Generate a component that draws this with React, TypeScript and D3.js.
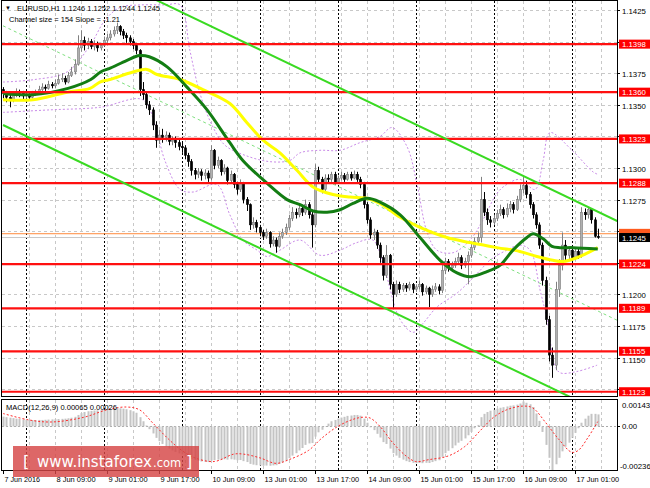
import React, { useEffect, useRef } from "react";
import * as d3 from "d3";

// ---------- DATA ----------
const firstOpen = 1.1362;
const closes = [
  1.1359,1.1356,1.1354,1.1358,1.1360,1.1359,1.1357,1.1358,1.1356,1.1359,
  1.1360,1.1362,1.1364,1.1363,1.1366,1.1365,1.1367,1.1370,1.1371,1.1368,
  1.1373,1.1376,1.1382,1.1395,1.1401,1.1397,1.1400,1.1396,1.1398,1.1395,
  1.1397,1.1401,1.1403,1.1406,1.1409,1.1412,1.1408,1.1405,1.1403,1.1400,
  1.1397,1.1393,1.1362,1.1358,1.1350,1.1346,1.1334,1.1322,1.1326,1.1324,
  1.1326,1.1321,1.1322,1.1320,1.1317,1.1316,1.1310,1.1305,1.1298,1.1295,
  1.1297,1.1294,1.1296,1.1292,1.1314,1.1302,1.1306,1.1297,1.1300,1.1290,
  1.1295,1.1287,1.1283,1.1288,1.1275,1.1271,1.1255,1.1257,1.1253,1.1249,
  1.1246,1.1249,1.1240,1.1243,1.1238,1.1246,1.1249,1.1253,1.1260,1.1265,
  1.1263,1.1268,1.1265,1.1271,1.1263,1.1255,1.1298,1.1291,1.1283,1.1292,
  1.1291,1.1295,1.1289,1.1292,1.1294,1.1291,1.1295,1.1292,1.1295,1.1291,
  1.1287,1.1271,1.1259,1.1247,1.1249,1.1239,1.1229,1.1215,1.1231,1.1208,
  1.1200,1.1208,1.1204,1.1207,1.1205,1.1208,1.1204,1.1206,1.1208,1.1202,
  1.1205,1.1200,1.1204,1.1206,1.1203,1.1219,1.1226,1.1221,1.1223,1.1226,
  1.1229,1.1223,1.1226,1.1231,1.1237,1.1242,1.1245,1.1275,1.1265,1.1259,
  1.1257,1.1260,1.1264,1.1267,1.1263,1.1268,1.1271,1.1267,1.1275,1.1283,
  1.1286,1.1279,1.1271,1.1263,1.1255,1.1239,1.1211,1.1180,1.1152,1.1144,
  1.1204,1.1223,1.1239,1.1231,1.1235,1.1229,1.1234,1.1231,1.1265,1.1263,
  1.1267,1.1259,1.1246,1.1245,
];
const highs = [
  1.1364,1.1361,1.1358,1.1360,1.1363,1.1362,1.1361,1.1360,1.1359,1.1361,
  1.1362,1.1365,1.1367,1.1366,1.1369,1.1368,1.1370,1.1374,1.1375,1.1373,
  1.1376,1.1380,1.1386,1.1405,1.1409,1.1404,1.1403,1.1402,1.1401,1.1400,
  1.1399,1.1404,1.1406,1.1409,1.1412,1.1415,1.1413,1.1410,1.1407,1.1405,
  1.1402,1.1398,1.1394,1.1368,1.1360,1.1353,1.1348,1.1337,1.1330,1.1331,
  1.1329,1.1328,1.1325,1.1325,1.1323,1.1320,1.1318,1.1312,1.1307,1.1300,
  1.1300,1.1299,1.1299,1.1298,1.1318,1.1315,1.1309,1.1307,1.1303,1.1301,
  1.1298,1.1296,1.1289,1.1291,1.1289,1.1277,1.1272,1.1261,1.1259,1.1255,
  1.1251,1.1252,1.1250,1.1246,1.1245,1.1249,1.1252,1.1256,1.1263,1.1269,
  1.1268,1.1272,1.1270,1.1275,1.1273,1.1266,1.1303,1.1301,1.1293,1.1295,
  1.1295,1.1297,1.1297,1.1294,1.1297,1.1296,1.1297,1.1297,1.1298,1.1297,
  1.1293,1.1289,1.1273,1.1261,1.1252,1.1251,1.1241,1.1231,1.1239,1.1232,
  1.1210,1.1211,1.1210,1.1209,1.1209,1.1210,1.1209,1.1208,1.1211,1.1209,
  1.1207,1.1206,1.1207,1.1209,1.1208,1.1224,1.1229,1.1228,1.1226,1.1229,
  1.1233,1.1231,1.1229,1.1234,1.1240,1.1245,1.1249,1.1293,1.1281,1.1268,
  1.1262,1.1263,1.1267,1.1271,1.1269,1.1272,1.1274,1.1273,1.1278,1.1287,
  1.1293,1.1290,1.1281,1.1273,1.1265,1.1257,1.1241,1.1214,1.1183,1.1158,
  1.1210,1.1228,1.1249,1.1243,1.1238,1.1238,1.1237,1.1236,1.1269,1.1268,
  1.1269,1.1268,1.1261,1.1252,
];
const lows = [
  1.1355,1.1352,1.1348,1.1352,1.1356,1.1356,1.1354,1.1355,1.1353,1.1355,
  1.1357,1.1358,1.1360,1.1361,1.1362,1.1363,1.1363,1.1366,1.1368,1.1366,
  1.1367,1.1372,1.1374,1.1381,1.1392,1.1393,1.1394,1.1394,1.1393,1.1392,
  1.1393,1.1396,1.1399,1.1401,1.1404,1.1406,1.1405,1.1402,1.1399,1.1397,
  1.1394,1.1390,1.1357,1.1354,1.1347,1.1342,1.1330,1.1316,1.1319,1.1320,
  1.1321,1.1318,1.1318,1.1316,1.1314,1.1312,1.1307,1.1301,1.1294,1.1291,
  1.1292,1.1290,1.1291,1.1289,1.1290,1.1299,1.1300,1.1294,1.1295,1.1287,
  1.1288,1.1284,1.1279,1.1281,1.1272,1.1266,1.1251,1.1252,1.1249,1.1246,
  1.1243,1.1244,1.1237,1.1238,1.1233,1.1237,1.1244,1.1247,1.1251,1.1258,
  1.1260,1.1261,1.1262,1.1263,1.1260,1.1237,1.1253,1.1288,1.1280,1.1281,
  1.1288,1.1289,1.1287,1.1288,1.1290,1.1289,1.1290,1.1290,1.1291,1.1289,
  1.1284,1.1268,1.1256,1.1244,1.1243,1.1236,1.1225,1.1211,1.1213,1.1204,
  1.1189,1.1198,1.1201,1.1202,1.1202,1.1203,1.1201,1.1202,1.1204,1.1199,
  1.1200,1.1190,1.1198,1.1202,1.1200,1.1201,1.1216,1.1218,1.1219,1.1221,
  1.1224,1.1220,1.1221,1.1208,1.1229,1.1235,1.1240,1.1241,1.1262,1.1255,
  1.1253,1.1255,1.1258,1.1262,1.1260,1.1261,1.1265,1.1264,1.1266,1.1273,
  1.1280,1.1276,1.1268,1.1260,1.1252,1.1236,1.1207,1.1176,1.1147,1.1134,
  1.1140,1.1198,1.1219,1.1227,1.1228,1.1226,1.1227,1.1228,1.1229,1.1259,
  1.1260,1.1256,1.1245,1.1244,
];

// moving averages: [bar index, price]
const greenMA: [number, number][] = [
  [0,1.1359],[9,1.1358],[20,1.1363],[27,1.1370],[30,1.1376],[33,1.1379],[38,1.1385],[42,1.1389],
  [45,1.1388],[50.5,1.1380],[56.6,1.1364],[62.8,1.1346],[69.8,1.1320],[73.8,1.1306],[81.2,1.1288],
  [87.4,1.1275],[91.4,1.1271],[95.4,1.1266],[99.7,1.1265],[103.7,1.1267],[107.7,1.1272],[112,1.1276],
  [116,1.1273],[122.2,1.1263],[128.3,1.1245],[134.5,1.1227],[139.7,1.1217],[143.7,1.1214],
  [148.9,1.1218],[152.9,1.1223],[156.9,1.1235],[161.2,1.1245],[163.1,1.1248],[166.2,1.1244],
  [168.9,1.1238],[171.4,1.1237],[175.4,1.1237],[183,1.1236],
];
const yellowMA: [number, number][] = [
  [0,1.1354],[9.2,1.1354],[19.7,1.1360],[26.8,1.1363],[29.8,1.1368],[32.9,1.1370],[40,1.1376],
  [44.3,1.1378],[47.4,1.1374],[54.5,1.1370],[61.5,1.1362],[69.8,1.1351],[75,1.1336],[80,1.1322],
  [85.2,1.1312],[90.5,1.1298],[95.4,1.1285],[101.5,1.1279],[106.8,1.1277],[112,1.1276],[116,1.1272],
  [122.2,1.1261],[128.3,1.1253],[136.6,1.1245],[143.7,1.1241],[152,1.1237],[159,1.1234],
  [164.3,1.1230],[169.2,1.1227],[172.3,1.1226],[176.6,1.1229],[183,1.1237],
];
// envelope bands (violet dotted): [bar index, price]
const upperBand: [number, number][] = [
  [0,1.1368],[9.8,1.1370],[19.7,1.1376],[26.8,1.1397],[31.4,1.1417],[36,1.1427],[42.2,1.1429],
  [49.8,1.1429],[54.5,1.1429],[57.5,1.1393],[60.6,1.1359],[64.3,1.1334],[68.3,1.1318],[74.5,1.1310],
  [82.2,1.1305],[88.3,1.1306],[91.4,1.1312],[97.5,1.1314],[103.7,1.1314],[109.8,1.1320],[116,1.1325],
  [119.7,1.1332],[124.3,1.1317],[127.4,1.1287],[130.5,1.1249],[133.5,1.1235],[138.5,1.1233],
  [143.7,1.1243],[147.7,1.1259],[152,1.1280],[155,1.1287],[159,1.1291],[163.7,1.1283],
  [166.2,1.1306],[168.3,1.1328],[175.1,1.1314],[181.5,1.1297],[183,1.1295],
];
const lowerBand: [number, number][] = [
  [0,1.1344],[14.5,1.1346],[29.8,1.1348],[43,1.1354],[46.8,1.1334],[49.8,1.1306],[54.5,1.1283],
  [58.5,1.1281],[65.8,1.1287],[69.8,1.1263],[73.8,1.1243],[78.2,1.1235],[81.2,1.1230],[85.2,1.1235],
  [91.4,1.1243],[97.5,1.1231],[103.7,1.1235],[108.9,1.1241],[113.8,1.1243],[117.5,1.1219],
  [122.2,1.1180],[126.2,1.1170],[129.2,1.1177],[133.5,1.1190],[139.7,1.1201],[146.8,1.1219],
  [149.8,1.1227],[155,1.1235],[159,1.1239],[162.2,1.1235],[165.2,1.1204],[167.4,1.1180],
  [169.8,1.1144],[171.4,1.1138],[176.6,1.1139],[182.8,1.1144],
];
// regression channel: [bar index, price]
const channelUpper: [number, number][] = [[0, 1.1491], [189, 1.1258]];
const channelMiddle: [number, number][] = [[0, 1.14125], [189, 1.11795]];
const channelLower: [number, number][] = [[0, 1.1334], [189, 1.1101]];

const levels = [1.1398, 1.1360, 1.1323, 1.1288, 1.1224, 1.1189, 1.1155, 1.1123];
const priceTicks = [1.1425,1.1400,1.1375,1.1350,1.1325,1.1300,1.1275,1.1250,1.1225,1.1200,1.1175,1.1150,1.1125];
const priceTickLabels = ["1.1425","1.1400","1.1375","1.1350","1.1325","1.1300","1.1275","1.1250","1.1225","1.1200","1.1175","1.1150","1.1125"];
const lastPrice = 1.1245;
const askPrice = 1.1248;

const macdHist = [
  0.00053,0.00050,0.00047,0.00045,0.00042,0.00040,0.00038,0.00036,0.00035,0.00034,
  0.00034,0.00035,0.00035,0.00036,0.00037,0.00038,0.00039,0.00040,0.00041,0.00042,
  0.00044,0.00047,0.00052,0.00062,0.00072,0.00078,0.00082,0.00084,0.00086,0.00087,
  0.00088,0.00090,0.00092,0.00094,0.00097,0.00099,0.00098,0.00096,0.00093,0.00088,
  0.00082,0.00074,0.00050,0.00028,0.00005,-0.00015,-0.00038,-0.00062,-0.00080,-0.00095,
  -0.00108,-0.00120,-0.00130,-0.00138,-0.00146,-0.00152,-0.00160,-0.00168,-0.00176,-0.00182,
  -0.00186,-0.00190,-0.00192,-0.00193,-0.00185,-0.00183,-0.00180,-0.00180,-0.00178,-0.00180,
  -0.00178,-0.00180,-0.00183,-0.00182,-0.00188,-0.00193,-0.00203,-0.00207,-0.00210,-0.00212,
  -0.00213,-0.00212,-0.00213,-0.00211,-0.00210,-0.00203,-0.00195,-0.00185,-0.00172,-0.00158,
  -0.00145,-0.00130,-0.00117,-0.00100,-0.00092,-0.00090,-0.00055,-0.00032,-0.00018,0.00002,
  0.00015,0.00028,0.00035,0.00042,0.00048,0.00052,0.00057,0.00059,0.00062,0.00062,
  0.00058,0.00042,0.00020,-0.00005,-0.00020,-0.00040,-0.00060,-0.00085,-0.00095,-0.00120,
  -0.00145,-0.00158,-0.00170,-0.00180,-0.00188,-0.00193,-0.00197,-0.00199,-0.00198,-0.00199,
  -0.00197,-0.00198,-0.00193,-0.00188,-0.00183,-0.00165,-0.00145,-0.00132,-0.00118,-0.00103,
  -0.00088,-0.00078,-0.00065,-0.00048,-0.00030,-0.00010,0.00008,0.00050,0.00068,0.00078,
  0.00085,0.00090,0.00096,0.00101,0.00104,0.00108,0.00112,0.00114,0.00118,0.00124,
  0.00135,0.00128,0.00120,0.00105,0.00070,0.00030,-0.00030,-0.00100,-0.00170,-0.00236,
  -0.00205,-0.00170,-0.00135,-0.00110,-0.00088,-0.00062,-0.00035,-0.00010,0.00020,0.00042,
  0.00058,0.00068,0.00068,0.00065,
];
const macdSignal: [number, number][] = [
  [0,0.00070],[8,0.00035],[15,0.00024],[25,0.00050],[32,0.00090],[38,0.00105],[42,0.00090],
  [46,0.00020],[51,-0.00070],[55,-0.00130],[59,-0.00170],[65,-0.00190],[71,-0.00150],[74,-0.00150],
  [79,-0.00170],[84,-0.00200],[88,-0.00180],[94,-0.00130],[98,-0.00065],[103,0.00000],[108,0.00040],
  [111,0.00050],[113,0.00045],[116,0.00000],[120,-0.00090],[124,-0.00160],[127,-0.00190],
  [131,-0.00180],[137,-0.00160],[142,-0.00110],[147,-0.00020],[151,0.00050],[155,0.00090],
  [160,0.00110],[163,0.00100],[167,0.00020],[171,-0.00070],[175,-0.00140],[177,-0.00130],
  [180,-0.00060],[183,0.00026],
];
const macdMax = 0.00143;
const macdMin = -0.00236;

const dateLabelIdx = [0,16,32,48,64,80,96,112,128,144,160,176];
const dateLabels = ["7 Jun 2016","8 Jun 09:00","9 Jun 01:00","9 Jun 17:00","10 Jun 09:00","13 Jun 01:00","13 Jun 17:00","14 Jun 09:00","15 Jun 01:00","15 Jun 17:00","16 Jun 09:00","17 Jun 01:00"];
const daySeparatorIdx = [7,31,55,79,103,127,151,175];

const headerText = "EURUSD,H1  1.1246 1.1252 1.1244 1.1245";
const channelText = "Channel size = 154 Slope = -1.21";
const macdText = "MACD(12,26,9) 0.00065 0.00026";

// ---------- CHART ----------
const W = 650, H = 488;
const FONT = "'Liberation Sans', Arial, sans-serif";

export default function App() {
  const ref = useRef<SVGSVGElement | null>(null);
  useEffect(() => {
    const svg = d3.select(ref.current);
    svg.selectAll("*").remove();
    const L = 2, R = 617, T = 1, B = 396, MT = 400, MB = 470;

    const x = d3.scaleLinear().domain([0, (R - 3) / 3.25]).range([3, R]);
    const y = d3.scaleLinear().domain([1.115, 1.1425]).range([357.6, 10]);
    const ym = d3.scaleLinear().domain([macdMin, macdMax]).range([MB, MT]);

    svg.append("rect").attr("width", W).attr("height", H).attr("fill", "#fff");
    const defs = svg.append("defs");
    defs.append("clipPath").attr("id", "clipMain").append("rect")
      .attr("x", L).attr("y", T).attr("width", R - L).attr("height", B - T);
    defs.append("clipPath").attr("id", "clipMacd").append("rect")
      .attr("x", L).attr("y", MT).attr("width", R - L).attr("height", MB - MT);

    const gridIdx = d3.range(8, 192, 8);
    const main = svg.append("g").attr("clip-path", "url(#clipMain)");
    const macd = svg.append("g").attr("clip-path", "url(#clipMacd)");

    // grids
    main.selectAll("line.hg").data(priceTicks).join("line")
      .attr("x1", L).attr("x2", R).attr("y1", d => Math.round(y(d)) + 0.5).attr("y2", d => Math.round(y(d)) + 0.5)
      .attr("stroke", "#c8c8c8").attr("stroke-dasharray", "3,3");
    [main, macd].forEach((g, k) => {
      const y1 = k === 0 ? T : MT, y2 = k === 0 ? B : MB;
      g.selectAll("line.vg").data(gridIdx).join("line")
        .attr("x1", d => Math.round(x(d)) + 0.5).attr("x2", d => Math.round(x(d)) + 0.5)
        .attr("y1", y1).attr("y2", y2).attr("stroke", "#c8c8c8").attr("stroke-dasharray", "3,3");
      g.selectAll("line.sep").data(daySeparatorIdx).join("line")
        .attr("x1", d => Math.round(x(d)) + 0.5).attr("x2", d => Math.round(x(d)) + 0.5)
        .attr("y1", y1).attr("y2", y2).attr("stroke", "#000").attr("stroke-dasharray", "2,2");
    });

    // bands
    const line = d3.line<[number, number]>().x(d => x(d[0])).y(d => y(d[1])).curve(d3.curveCatmullRom);
    [upperBand, lowerBand].forEach(b => {
      main.append("path").attr("d", line(b)).attr("fill", "none")
        .attr("stroke", "#c98be8").attr("stroke-width", 1).attr("stroke-dasharray", "2,2");
    });
    // channel middle
    const sline = d3.line<[number, number]>().x(d => x(d[0])).y(d => y(d[1]));
    main.append("path").attr("d", sline(channelMiddle)).attr("fill", "none")
      .attr("stroke", "#7fe07f").attr("stroke-width", 1).attr("stroke-dasharray", "3,3");

    // ask / bid lines
    main.append("line").attr("x1", L).attr("x2", R).attr("y1", y(askPrice)).attr("y2", y(askPrice))
      .attr("stroke", "#ff8a3c").attr("stroke-width", 1);
    main.append("line").attr("x1", L).attr("x2", R).attr("y1", y(lastPrice)).attr("y2", y(lastPrice))
      .attr("stroke", "#c8c8c8").attr("stroke-width", 1);

    // candles
    const cg = main.append("g");
    closes.forEach((c, i) => {
      const o = i === 0 ? firstOpen : closes[i - 1];
      const bull = c >= o;
      const cx = Math.round(x(i)) + 0.5;
      cg.append("line").attr("x1", cx).attr("x2", cx)
        .attr("y1", y(highs[i])).attr("y2", y(lows[i]))
        .attr("stroke", bull ? "#808080" : "#000").attr("stroke-width", 1);
      const top = y(Math.max(o, c)), bot = y(Math.min(o, c));
      cg.append("rect").attr("x", cx - 1.2).attr("width", 2.4)
        .attr("y", top).attr("height", Math.max(1, bot - top))
        .attr("fill", bull ? "#b0b0b0" : "#000")
        .attr("stroke", bull ? "#777" : "#000").attr("stroke-width", 0.5);
    });

    // moving averages
    main.append("path").attr("d", line(yellowMA)).attr("fill", "none")
      .attr("stroke", "#ffff00").attr("stroke-width", 3);
    main.append("path").attr("d", line(greenMA)).attr("fill", "none")
      .attr("stroke", "#137d13").attr("stroke-width", 3);

    // levels
    main.selectAll("line.lv").data(levels).join("line")
      .attr("x1", L).attr("x2", R).attr("y1", d => y(d)).attr("y2", d => y(d))
      .attr("stroke", "#ff1010").attr("stroke-width", 2.2);

    // channel lines
    [channelUpper, channelLower].forEach(c => {
      main.append("path").attr("d", sline(c)).attr("fill", "none")
        .attr("stroke", "#3ada22").attr("stroke-width", 2);
    });

    // MACD
    macd.append("line").attr("x1", L).attr("x2", R).attr("y1", Math.round(ym(0)) + 0.5).attr("y2", Math.round(ym(0)) + 0.5)
      .attr("stroke", "#a8a8a8").attr("stroke-dasharray", "2,2");
    macd.selectAll("rect.h").data(macdHist).join("rect")
      .attr("x", (d, i) => Math.round(x(i)) - 0.5).attr("width", 2)
      .attr("y", d => Math.min(ym(0), ym(d))).attr("height", d => Math.abs(ym(d) - ym(0)))
      .attr("fill", "#c4c4c4");
    macd.append("path").attr("d", d3.line<[number, number]>().x(d => x(d[0])).y(d => ym(d[1])).curve(d3.curveCatmullRom)(macdSignal))
      .attr("fill", "none").attr("stroke", "#ff2a2a").attr("stroke-width", 1).attr("stroke-dasharray", "2,2");

    // frames
    svg.append("rect").attr("x", L - 0.5).attr("y", T - 0.5).attr("width", R - L + 1).attr("height", B - T + 1)
      .attr("fill", "none").attr("stroke", "#000");
    svg.append("rect").attr("x", L - 0.5).attr("y", MT - 0.5).attr("width", R - L + 1).attr("height", MB - MT + 1)
      .attr("fill", "none").attr("stroke", "#000");

    // price axis
    const ax = svg.append("g").attr("font-family", FONT).attr("font-size", 7.8);
    const tagPrices = [...levels, lastPrice, askPrice];
    priceTicks.forEach((p, k) => {
      const yy = Math.round(y(p)) + 0.5;
      ax.append("line").attr("x1", R).attr("x2", R + 3).attr("y1", yy).attr("y2", yy).attr("stroke", "#000");
      const gap = d3.min(tagPrices, t => Math.abs(y(t) - y(p))) as number;
      if (gap < 6) return; // covered by a price tag
      ax.append("text").attr("x", 622).attr("y", yy + (gap < 8 ? 4.5 : 3)).attr("fill", "#000").text(priceTickLabels[k]);
    });
    const tag = (p: number, fill: string, label: string | null) => {
      const yy = y(p);
      ax.append("rect").attr("x", 619).attr("y", yy - 4.5).attr("width", 31).attr("height", 9).attr("fill", fill);
      if (label) ax.append("text").attr("x", 622).attr("y", yy + 3).attr("fill", "#fff").text(label);
    };
    levels.forEach(l => tag(l, "#ff0000", l.toFixed(4)));
    tag(askPrice + 0.00003, "#ff5a1e", null);
    tag(lastPrice, "#000", lastPrice.toFixed(4));

    // macd axis
    ax.append("text").attr("x", 622).attr("y", MT + 8).text(macdMax.toFixed(5));
    ax.append("text").attr("x", 622).attr("y", Math.round(ym(0)) + 3).text("0.00");
    ax.append("text").attr("x", 620).attr("y", MB - 1).text(macdMin.toFixed(5));
    ax.append("line").attr("x1", R).attr("x2", R + 3).attr("y1", Math.round(ym(0)) + 0.5).attr("y2", Math.round(ym(0)) + 0.5).attr("stroke", "#000");

    // time axis
    dateLabelIdx.forEach((idx, k) => {
      const xx = Math.round(x(idx)) + 0.5;
      ax.append("line").attr("x1", xx).attr("x2", xx).attr("y1", MB).attr("y2", MB + 4).attr("stroke", "#000");
      ax.append("text").attr("x", xx + 1).attr("y", 482).attr("fill", "#000")
        .attr("textLength", dateLabels[k].length * 3.55).attr("lengthAdjust", "spacingAndGlyphs")
        .text(dateLabels[k]);
    });

    // header texts
    const hd = svg.append("g").attr("font-family", FONT).attr("font-size", 8).attr("fill", "#000");
    hd.append("text").attr("x", 5).attr("y", 10).attr("font-size", 6).text("▼");
    hd.append("text").attr("x", 17).attr("y", 11).attr("textLength", 143).attr("lengthAdjust", "spacingAndGlyphs").text(headerText);
    hd.append("text").attr("x", 9).attr("y", 22).attr("textLength", 111).attr("lengthAdjust", "spacingAndGlyphs").text(channelText);
    hd.append("text").attr("x", 6).attr("y", 410).attr("textLength", 111).attr("lengthAdjust", "spacingAndGlyphs").text(macdText);

    // watermark
    const wm = svg.append("g");
    wm.append("rect").attr("x", 13).attr("y", 446).attr("width", 186).attr("height", 31)
      .attr("fill", "#d64545").attr("opacity", 0.82);
    const wt = wm.append("text").attr("font-family", "'DejaVu Sans', sans-serif").attr("fill", "#fff").attr("y", 467);
    wt.append("tspan").attr("x", 23).attr("font-size", 16).text("[");
    wt.append("tspan").attr("x", 37).attr("font-size", 15).text("www.instaforex");
    wt.append("tspan").attr("x", 153).attr("font-size", 11.5).text(".com");
    wt.append("tspan").attr("x", 186).attr("font-size", 16).text("]");
  }, []);
  return (
    <svg ref={ref} width={W} height={H}
      style={{ position: "absolute", left: 0, top: 0, display: "block", background: "#fff" }} />
  );
}
